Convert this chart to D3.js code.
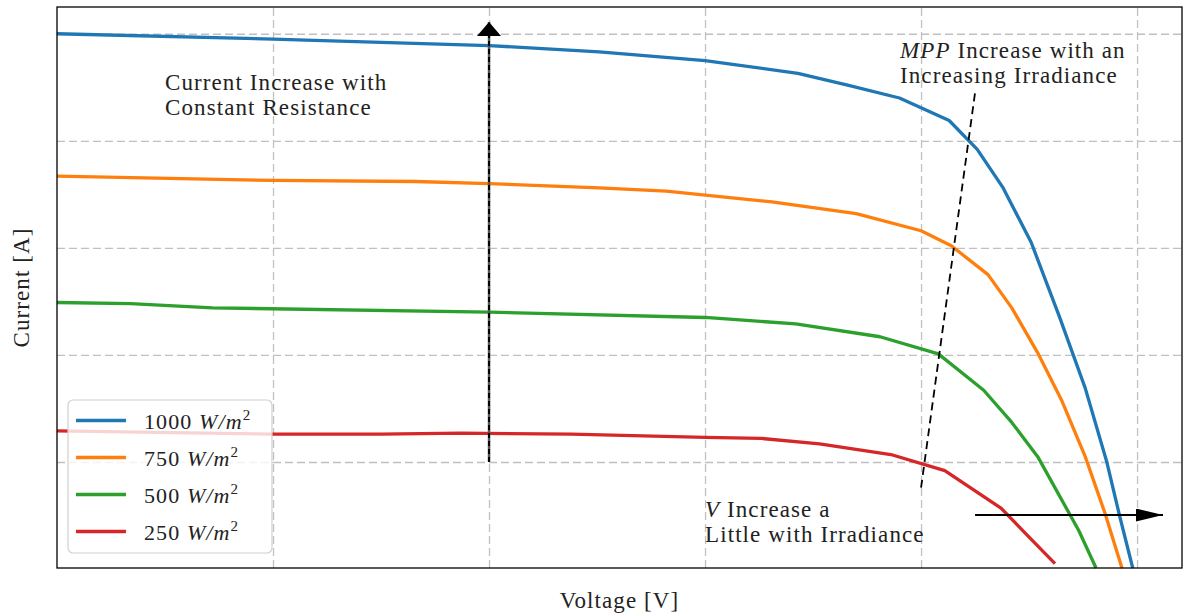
<!DOCTYPE html>
<html>
<head>
<meta charset="utf-8">
<script src="https://cdn.jsdelivr.net/npm/d3@7"></script>
<style>
  body { margin: 0; background: #fff; }
  text { font-family: "Liberation Serif", "DejaVu Serif", serif; fill: #222; letter-spacing: 1.1px; }
</style>
</head>
<body>
<div class="container"></div>
<script>
// irradiance levels and their I-V points (voltage, current)
const labels = ['1000', '750', '500', '250']
const colors = ['#1f77b4', '#ff7f0e', '#2ca02c', '#d62728']

const v1000 = [0, 1, 2, 2.51, 3, 3.43, 3.66, 3.9, 4.13, 4.26, 4.38, 4.51, 4.64, 4.76, 4.86, 4.92, 4.98]
const i1000 = [5.0, 4.95, 4.89, 4.83, 4.75, 4.63, 4.52, 4.4, 4.19, 3.92, 3.56, 3.05, 2.36, 1.69, 1.0, 0.49, 0.01]

const v750 = [0, 1, 1.66, 2, 2.51, 2.82, 3.31, 3.7, 4.0, 4.14, 4.31, 4.42, 4.54, 4.65, 4.76, 4.85, 4.93]
const i750 = [3.67, 3.63, 3.62, 3.6, 3.56, 3.53, 3.43, 3.32, 3.16, 3.02, 2.75, 2.44, 2.02, 1.58, 1.05, 0.53, 0.01]

const v500 = [0, 0.34, 0.72, 2, 3, 3.42, 3.81, 4.08, 4.29, 4.42, 4.54, 4.73, 4.81]
const i500 = [2.49, 2.48, 2.44, 2.4, 2.35, 2.29, 2.17, 2.01, 1.67, 1.37, 1.05, 0.36, 0.01]

const v250 = [0, 1, 1.5, 1.87, 2.38, 3, 3.26, 3.53, 3.86, 4.11, 4.37, 4.49, 4.62]
const i250 = [1.29, 1.26, 1.26, 1.27, 1.26, 1.23, 1.22, 1.17, 1.07, 0.92, 0.57, 0.32, 0.05]

const xTicks = [1, 2, 3, 4, 5]
const yTicks = [1, 2, 3, 4, 5]

const seriesV = [v1000, v750, v500, v250]
const seriesI = [i1000, i750, i500, i250]

// annotation anchors (data units)
const upArrow = [[2, 1.0], [2, 5.11]]
const mppLine = [[4.0, 0.76], [4.25, 4.45]]
const rightArrow = [[4.25, 0.505], [5.12, 0.505]]

const width = 1186
const height = 615
const margin = {top: 7, right: 4, bottom: 47, left: 57}
const innerW = width - margin.left - margin.right
const innerH = height - margin.top - margin.bottom

const svg = d3.select('.container')
    .append('svg')
    .attr('width', width)
    .attr('height', height)

const defs = svg.append('defs')
defs.append('marker')
    .attr('id', 'head')
    .attr('viewBox', '0 0 14 24')
    .attr('refX', 14).attr('refY', 12)
    .attr('markerWidth', 14).attr('markerHeight', 24)
    .attr('markerUnits', 'userSpaceOnUse')
    .attr('orient', 'auto')
    .append('path')
    .attr('d', 'M0,0 L14,12 L0,24 Z')
    .attr('fill', '#000')
defs.append('marker')
    .attr('id', 'head2')
    .attr('viewBox', '0 0 27 13')
    .attr('refX', 27).attr('refY', 6.5)
    .attr('markerWidth', 27).attr('markerHeight', 13)
    .attr('markerUnits', 'userSpaceOnUse')
    .attr('orient', 'auto')
    .append('path')
    .attr('d', 'M0,0 L27,6.5 L0,13 Z')
    .attr('fill', '#000')

const g = svg.append('g')
    .attr('transform', `translate(${margin.left},${margin.top})`)

const x = d3.scaleLinear().domain([0, 5.208]).range([0, innerW])
const y = d3.scaleLinear().domain([0.01, 5.25]).range([innerH, 0])

// grid
g.append('g')
    .attr('class', 'grid')
    .attr('transform', `translate(0,${innerH})`)
    .call(d3.axisBottom(x).tickValues(xTicks).tickSize(-innerH).tickFormat(''))
g.append('g')
    .attr('class', 'grid')
    .call(d3.axisLeft(y).tickValues(yTicks).tickSize(-innerW).tickFormat(''))
g.selectAll('.grid .domain').remove()
g.selectAll('.grid line')
    .attr('stroke', '#c0c0c0')
    .attr('stroke-width', 1.3)
    .attr('stroke-dasharray', '8,4')

const line = d3.line()
    .x(d => x(d[0]))
    .y(d => y(d[1]))

// curves
labels.forEach((lab, k) => {
    const pts = seriesV[k].map((v, j) => [v, seriesI[k][j]])
    g.append('path')
        .datum(pts)
        .attr('d', line)
        .attr('fill', 'none')
        .attr('stroke', colors[k])
        .attr('stroke-width', 3.3)
        .attr('stroke-linejoin', 'round')
})

// vertical arrow
g.append('path')
    .datum(upArrow)
    .attr('d', line)
    .attr('stroke', '#555')
    .attr('stroke-width', 2.5)
    .attr('marker-end', 'url(#head)')
g.append('path')
    .datum([upArrow[0], [2, 4.98]])
    .attr('d', line)
    .attr('stroke', '#000')
    .attr('stroke-width', 2)
    .attr('stroke-dasharray', '5,3')

// MPP dashed line
g.append('path')
    .datum(mppLine)
    .attr('d', line)
    .attr('stroke', '#000')
    .attr('stroke-width', 1.8)
    .attr('stroke-dasharray', '8,5')

// horizontal arrow
g.append('path')
    .datum(rightArrow)
    .attr('d', line)
    .attr('stroke', '#000')
    .attr('stroke-width', 2)
    .attr('marker-end', 'url(#head2)')

// frame
g.append('rect')
    .attr('width', innerW).attr('height', innerH)
    .attr('fill', 'none')
    .attr('stroke', '#000')
    .attr('stroke-width', 1.3)

// annotation texts
function note(px, py, lines) {
    const t = svg.append('text')
        .attr('x', px).attr('y', py)
        .style('font-size', '23px')
    lines.forEach((ln, i) => {
        const ts = t.append('tspan').attr('x', px).attr('dy', i === 0 ? 0 : 24.5)
        ln.forEach(part => {
            ts.append('tspan').text(part[0]).style('font-style', part[1] ? 'italic' : 'normal')
        })
    })
}
note(165, 90, [[['Current Increase with']], [['Constant Resistance']]])
note(900, 58, [[['MPP', true], [' Increase with an']], [['Increasing Irradiance']]])
note(705, 517, [[['V', true], [' Increase a']], [['Little with Irradiance']]])

// axis labels
svg.append('text')
    .attr('x', margin.left + innerW / 2)
    .attr('y', 608)
    .attr('text-anchor', 'middle')
    .style('font-size', '23px')
    .text('Voltage [V]')
svg.append('text')
    .attr('transform', `translate(29,${margin.top + innerH / 2}) rotate(-90)`)
    .attr('text-anchor', 'middle')
    .style('font-size', '23px')
    .text('Current [A]')

// legend
const lg = svg.append('g').attr('transform', 'translate(68,400)')
lg.append('rect')
    .attr('width', 204).attr('height', 153)
    .attr('rx', 5)
    .attr('fill', 'rgba(255,255,255,0.8)')
    .attr('stroke', '#d0d0d0')
    .attr('stroke-width', 1.2)
labels.forEach((lab, k) => {
    const yy = 20.5 + k * 37
    lg.append('line')
        .attr('x1', 8).attr('x2', 58)
        .attr('y1', yy).attr('y2', yy)
        .attr('stroke', colors[k])
        .attr('stroke-width', 3.3)
    const t = lg.append('text')
        .attr('x', 76).attr('y', yy + 8)
        .style('font-size', '22px')
    t.append('tspan').text(lab + ' ')
    t.append('tspan').text('W/m').style('font-style', 'italic')
    t.append('tspan').text('2').attr('dy', -9).style('font-size', '15px')
})
</script>
</body>
</html>
